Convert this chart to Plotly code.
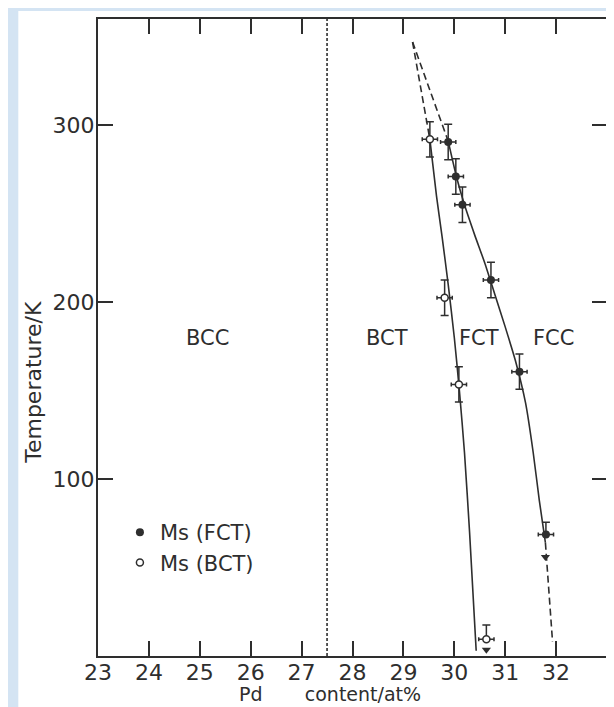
import plotly.graph_objects as go

# ---------------- data ----------------
# Ms (FCT) measurements: Pd content (at%) and temperature (K)
fct_pd = [29.88, 30.03, 30.16, 30.72, 31.28, 31.80]
fct_T = [290.5, 271.0, 255.0, 212.5, 160.7, 68.6]
fct_pd_err = [0.15, 0.15, 0.15, 0.15, 0.15, 0.15]
fct_T_err_up = [10, 10, 10, 10, 10, 7]
fct_T_err_down = [10, 10, 10, 10, 10, 0]

# Ms (BCT) measurements
bct_pd = [29.52, 29.81, 30.09, 30.63]
bct_T = [292.0, 202.5, 153.5, 9.5]
bct_pd_err = [0.15, 0.15, 0.15, 0.15]
bct_T_err_up = [10, 10, 10, 8]
bct_T_err_down = [10, 10, 10, 0]

# upper-limit arrows (Ms below this temperature)
arrow_pd = [31.79, 30.63]
arrow_T = [56.0, 3.5]

# FCT/FCC boundary curve
fcc_dash_top_pd = [29.18, 29.88]
fcc_dash_top_T = [347.0, 291.0]
fcc_solid_pd = [29.88, 30.05, 30.20, 30.40, 30.60, 30.80, 31.00, 31.20, 31.40, 31.55, 31.67, 31.79]
fcc_solid_T = [291.0, 270.0, 255.0, 238.0, 222.0, 204.0, 186.0, 167.0, 143.0, 115.0, 88.0, 64.0]
fcc_dash_bot_pd = [31.79, 31.93]
fcc_dash_bot_T = [64.0, 8.0]

# BCT/FCT boundary curve
bct_dash_top_pd = [29.18, 29.52]
bct_dash_top_T = [347.0, 292.0]
bct_solid_pd = [29.52, 29.65, 29.76, 29.88, 30.00, 30.10, 30.20, 30.30, 30.43]
bct_solid_T = [292.0, 260.0, 237.0, 210.0, 180.0, 150.0, 115.0, 70.0, 3.0]

# BCC/BCT boundary (Pd at%)
bcc_bct_boundary = 27.5

# region labels
region_names = ["BCC", "BCT", "FCT", "FCC"]
region_pd = [25.15, 28.67, 30.49, 31.95]
region_T = [180, 180, 180, 180]

x_ticks = [23, 24, 25, 26, 27, 28, 29, 30, 31, 32, 33]
y_ticks = [100, 200, 300]
x_range = [23, 33]
y_range = [0, 360]

# ---------------- layout geometry ----------------
# The page body adds an 8px margin; the figure is sized so it fits the window.
PAGE_OFF = 8
FIG_W, FIG_H = 614 - PAGE_OFF, 707 - PAGE_OFF
M_L, M_R, M_T, M_B = 90, 5, 11, 51
PLOT_W = FIG_W - M_L - M_R
PLOT_H = FIG_H - M_T - M_B


def px_x(page_x):
    return (page_x - PAGE_OFF - M_L) / PLOT_W


def px_y(page_y):
    return (FIG_H - M_B - (page_y - PAGE_OFF)) / PLOT_H


INK = "#2e2e2e"
FONT = "DejaVu Sans"

fig = go.Figure()

dash_style = dict(color=INK, width=1.6, dash="7px,4px")
solid_style = dict(color=INK, width=1.6)

fig.add_trace(go.Scatter(x=fcc_dash_top_pd, y=fcc_dash_top_T, mode="lines",
                         line=dash_style, showlegend=False, hoverinfo="skip"))
fig.add_trace(go.Scatter(x=fcc_solid_pd, y=fcc_solid_T, mode="lines",
                         line=dict(solid_style, shape="spline", smoothing=0.6),
                         showlegend=False, hoverinfo="skip"))
fig.add_trace(go.Scatter(x=fcc_dash_bot_pd, y=fcc_dash_bot_T, mode="lines",
                         line=dash_style, showlegend=False, hoverinfo="skip"))
fig.add_trace(go.Scatter(x=bct_dash_top_pd, y=bct_dash_top_T, mode="lines",
                         line=dash_style, showlegend=False, hoverinfo="skip"))
fig.add_trace(go.Scatter(x=bct_solid_pd, y=bct_solid_T, mode="lines",
                         line=dict(solid_style, shape="spline", smoothing=0.6),
                         showlegend=False, hoverinfo="skip"))

fig.add_vline(x=bcc_bct_boundary, line=dict(color=INK, width=1.6, dash="3px,2px"))

err_common = dict(color=INK, thickness=1.5)

fig.add_trace(go.Scatter(
    x=fct_pd, y=fct_T, mode="markers", name="Ms (FCT)",
    marker=dict(symbol="circle", size=8, color=INK),
    error_y=dict(type="data", symmetric=False, array=fct_T_err_up,
                 arrayminus=fct_T_err_down, width=4, **err_common),
    error_x=dict(type="data", array=fct_pd_err, width=2, **err_common),
))
fig.add_trace(go.Scatter(
    x=bct_pd, y=bct_T, mode="markers", name="Ms (BCT)",
    marker=dict(symbol="circle", size=7, color="white",
                line=dict(color=INK, width=1.5)),
    error_y=dict(type="data", symmetric=False, array=bct_T_err_up,
                 arrayminus=bct_T_err_down, width=4, **err_common),
    error_x=dict(type="data", array=bct_pd_err, width=2, **err_common),
))
fig.add_trace(go.Scatter(
    x=arrow_pd, y=arrow_T, mode="markers", showlegend=False, hoverinfo="skip",
    marker=dict(symbol="triangle-down", size=8, color=INK),
))

for name, pdv, tv in zip(region_names, region_pd, region_T):
    fig.add_annotation(x=pdv, y=tv, xref="x", yref="y", text=name, showarrow=False,
                       xanchor="center", yanchor="middle",
                       font=dict(family=FONT, size=21, color=INK))

# axis titles
fig.add_annotation(text="Temperature/K", textangle=-90, xref="paper", yref="paper",
                   x=px_x(32.5), y=px_y(382), xanchor="center", yanchor="middle",
                   showarrow=False, font=dict(family=FONT, size=22, color=INK))
fig.add_annotation(text="Pd       content/at%", xref="paper", yref="paper",
                   x=px_x(330.5), y=px_y(707), xanchor="center", yanchor="bottom",
                   showarrow=False, font=dict(family=FONT, size=19, color=INK))

# white scanned-paper panel on pale blue backdrop
fig.add_shape(type="rect", xref="paper", yref="paper",
              x0=px_x(18), x1=px_x(630), y0=px_y(720), y1=px_y(11),
              fillcolor="white", line=dict(width=0), layer="below")

axis_common = dict(showline=True, linecolor=INK, linewidth=2, mirror="allticks",
                   ticks="inside", ticklen=15, tickwidth=2, tickcolor=INK,
                   showgrid=False, zeroline=False,
                   tickfont=dict(family=FONT, size=22, color=INK))

fig.update_xaxes(range=x_range, tickvals=x_ticks, ticktext=[str(v) for v in x_ticks],
                 ticklabelstandoff=-4, **axis_common)
fig.update_yaxes(range=y_range, tickvals=y_ticks, ticktext=[str(v) for v in y_ticks],
                 ticklabelstandoff=-3, **axis_common)

fig.update_layout(
    width=FIG_W, height=FIG_H,
    margin=dict(l=M_L, r=M_R, t=M_T, b=M_B),
    paper_bgcolor="#d4e4f3",
    plot_bgcolor="white",
    font=dict(family=FONT, color=INK),
    showlegend=True,
    legend=dict(x=px_x(120), y=px_y(512), xanchor="left", yanchor="top",
                bgcolor="rgba(0,0,0,0)", borderwidth=0,
                font=dict(family=FONT, size=21, color=INK)),
)

fig.write_html("out.html")
